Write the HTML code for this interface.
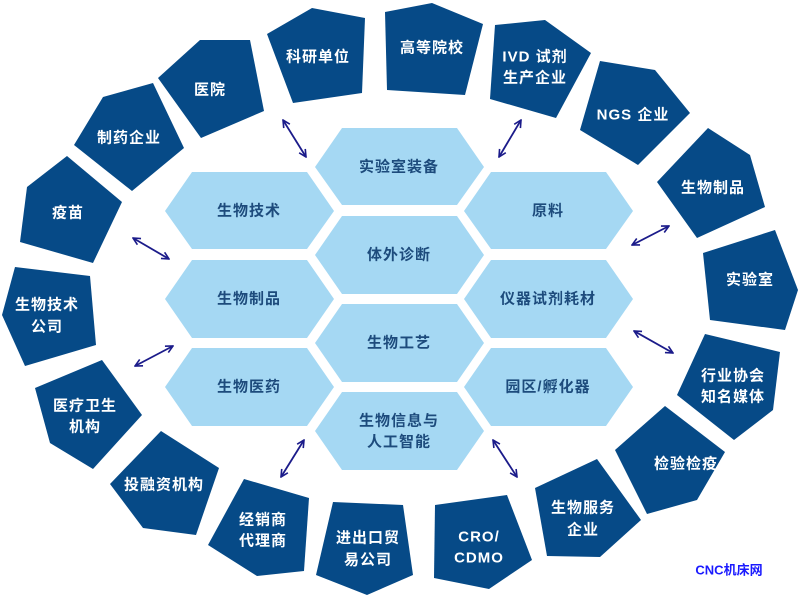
<!DOCTYPE html>
<html><head><meta charset="utf-8"><style>
html,body{margin:0;padding:0;background:#fff;}
svg{display:block;}
text{font-family:"Liberation Sans","Noto Sans CJK SC",sans-serif;font-weight:bold;font-size:15px;letter-spacing:1px;text-anchor:middle;dominant-baseline:central;}
.o{fill:#fff;}
.h{fill:#1d4b7c;}
</style></head><body>
<svg width="800" height="598" viewBox="0 0 800 598" xmlns="http://www.w3.org/2000/svg">
<defs>
<marker id="a" viewBox="0 0 10 10" refX="9" refY="5" markerWidth="9" markerHeight="9" orient="auto-start-reverse" markerUnits="userSpaceOnUse">
<path d="M1,1 L9,5 L1,9" fill="none" stroke="#1b1b8a" stroke-width="1.8"/>
</marker>
</defs>
<g fill="#064a87">
<polygon points="267,34 312,8 365,18 362,93 293,103"/>
<polygon points="385,12 432,3 483,24 465,95 387,90"/>
<polygon points="490,99 495,25 545,20 591,53 556,118"/>
<polygon points="580,130 600,61 655,70 690,113 638,165"/>
<polygon points="657,182 708,128 750,155 765,207 697,238"/>
<polygon points="703,253 775,230 798,290 785,330 710,320"/>
<polygon points="677,395 705,334 780,352 773,410 734,440"/>
<polygon points="615,450 665,406 725,452 697,500 647,514"/>
<polygon points="535,488 597,459 641,520 600,557 547,556"/>
<polygon points="435,505 507,495 532,560 489,589 434,578"/>
<polygon points="333,502 403,505 413,575 367,595 316,575"/>
<polygon points="208,545 244,479 309,498 304,571 257,576"/>
<polygon points="110,484 161,431 219,468 196,535 143,528"/>
<polygon points="35,388 102,360 142,415 93,469 50,443"/>
<polygon points="15,267 90,276 96,345 25,366 2,315"/>
<polygon points="20,242 27,187 67,156 122,202 93,263"/>
<polygon points="74,145 103,97 153,83 184,148 132,191"/>
<polygon points="158,78 200,40 250,40 264,111 201,138"/>
</g>
<g fill="#a5d8f3">
<polygon points="165,211 192,172 307,172 334,211 307,249 192,249"/>
<polygon points="165,299 192,260 307,260 334,299 307,338 192,338"/>
<polygon points="165,387 192,348 307,348 334,387 307,426 192,426"/>
<polygon points="315,167 342,128 457,128 484,167 457,205 342,205"/>
<polygon points="315,255 342,216 457,216 484,255 457,294 342,294"/>
<polygon points="315,343 342,304 457,304 484,343 457,382 342,382"/>
<polygon points="315,431 342,392 457,392 484,431 457,470 342,470"/>
<polygon points="464,211 491,172 606,172 633,211 606,249 491,249"/>
<polygon points="464,299 491,260 606,260 633,299 606,338 491,338"/>
<polygon points="464,387 491,348 606,348 633,387 606,426 491,426"/>
</g>
<g stroke="#1b1b8a" stroke-width="1.8" marker-start="url(#a)" marker-end="url(#a)">
<line x1="283" y1="120" x2="306" y2="157"/>
<line x1="499" y1="157" x2="521" y2="120"/>
<line x1="133" y1="238" x2="169" y2="259"/>
<line x1="632" y1="245" x2="669" y2="226"/>
<line x1="135" y1="366" x2="173" y2="346"/>
<line x1="634" y1="331" x2="673" y2="353"/>
<line x1="281" y1="477" x2="304" y2="440"/>
<line x1="493" y1="440" x2="517" y2="477"/>
</g>
<g class="h">
<text x="249" y="211">生物技术</text>
<text x="249" y="299">生物制品</text>
<text x="249" y="387">生物医药</text>
<text x="399" y="167">实验室装备</text>
<text x="399" y="255">体外诊断</text>
<text x="399" y="343">生物工艺</text>
<text x="399" y="421">生物信息与</text>
<text x="399" y="442">人工智能</text>
<text x="548" y="211">原料</text>
<text x="548" y="299">仪器试剂耗材</text>
<text x="548" y="387">园区/孵化器</text>
</g>
<g class="o">
<text x="318" y="57">科研单位</text>
<text x="432" y="48">高等院校</text>
<text x="535" y="57">IVD 试剂</text>
<text x="535" y="78">生产企业</text>
<text x="633" y="115">NGS 企业</text>
<text x="713" y="188">生物制品</text>
<text x="750" y="280">实验室</text>
<text x="733" y="376">行业协会</text>
<text x="733" y="397">知名媒体</text>
<text x="686" y="464">检验检疫</text>
<text x="583" y="508">生物服务</text>
<text x="583" y="530">企业</text>
<text x="479" y="537">CRO/</text>
<text x="479" y="558">CDMO</text>
<text x="368" y="538">进出口贸</text>
<text x="368" y="560">易公司</text>
<text x="263" y="520">经销商</text>
<text x="263" y="541">代理商</text>
<text x="164" y="485">投融资机构</text>
<text x="85" y="406">医疗卫生</text>
<text x="85" y="427">机构</text>
<text x="47" y="305">生物技术</text>
<text x="47" y="327">公司</text>
<text x="68" y="213">疫苗</text>
<text x="129" y="138">制药企业</text>
<text x="210" y="90">医院</text>
</g>
<text x="729" y="570" style="fill:#1a1aff;font-size:13px;letter-spacing:0">CNC机床网</text>
</svg>
</body></html>
